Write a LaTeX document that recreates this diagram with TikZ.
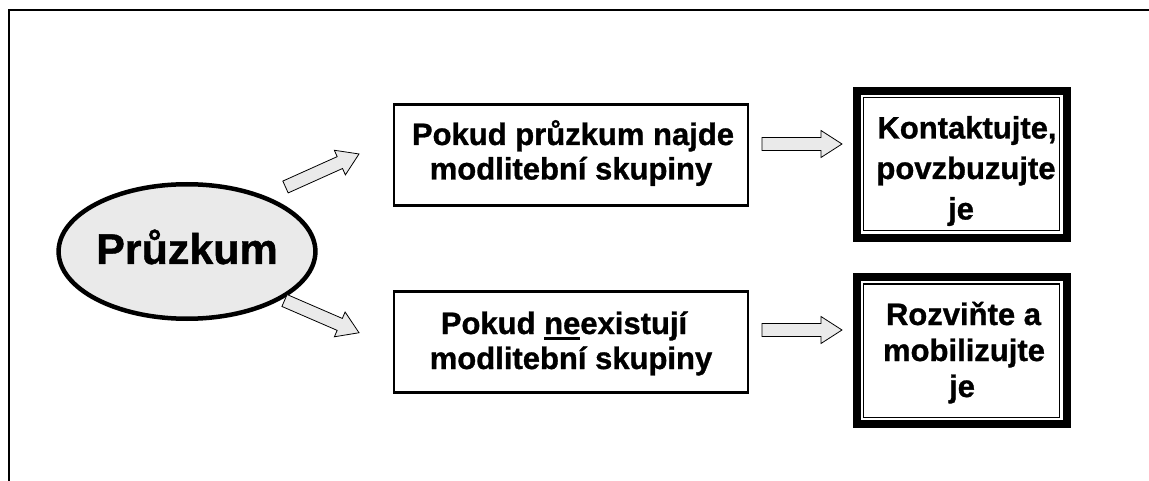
\documentclass[tikz,border=0pt]{standalone}
\usepackage{fontspec}
\setmainfont{Liberation Sans}[BoldFeatures={FakeBold=1}]
\usetikzlibrary{shapes.geometric}
\definecolor{lightfill}{RGB}{234,234,234}
\newcommand\myul[1]{\setbox0\hbox{#1}\rlap{\rule[-6pt]{\wd0}{3pt}}\box0}
\begin{document}
\begin{tikzpicture}[x=1pt,y=-1pt,
  frame/.style={line width=2.7pt},
  oval/.style={ellipse, draw, line width=4.5pt, fill=lightfill, minimum width=225.5pt, minimum height=134.5pt, inner sep=0pt, text height=25pt, text depth=0pt, font=\fontsize{43}{50}\selectfont\bfseries},
  midbox/.style={rectangle, draw, line width=2.2pt, minimum width=354pt, minimum height=101pt, inner sep=0pt},
  endbox/.style={rectangle, draw, line width=1pt, minimum width=196pt, minimum height=133pt, inner sep=0pt},
  lbl/.style={anchor=base, inner sep=0pt, font=\fontsize{31}{36}\selectfont\bfseries},
  endframe/.style={line width=8pt},
  blockarrow/.style={draw, line width=0.8pt, fill=lightfill, line join=miter},
  pics/barrow/.style={code={\draw[blockarrow] (0,-6.5) -- (#1-21,-6.5) -- (#1-21,-13.5) -- (#1,0) -- (#1-21,13.5) -- (#1-21,6.5) -- (0,6.5) -- cycle;}}
]
\useasboundingbox (0,0) rectangle (1149,481);
\draw[frame] (9,483) -- (9,10) -- (1151,10);

\node[oval] (p) at (187,251.5) {Průzkum};

\node[midbox] (m1) at (571,155) {};
\node[lbl] (m1a) at (573,145) {Pokud průzkum najde};
\node[lbl] (m1b) at (571,179.5) {modlitební skupiny};

\node[midbox] (m2) at (571,342) {};
\node[lbl] (m2a) at (564,334) {Pokud \myul{ne}existují};
\node[lbl] (m2b) at (571,369) {modlitební skupiny};

\node[endbox] (k) at (961.5,164.5) {};
\draw[endframe] ([shift={(-6.5,-6.5)}]k.north west) rectangle ([shift={(6.5,6.5)}]k.south east);
\node[lbl] (k1) at (967,138.5) {Kontaktujte,};
\node[lbl] (k2) at (966,179) {povzbuzujte};
\node[lbl] (k3) at (961,219.5) {je};

\node[endbox] (r) at (961.5,350.5) {};
\draw[endframe] ([shift={(-6.5,-6.5)}]r.north west) rectangle ([shift={(6.5,6.5)}]r.south east);
\node[lbl] (r1) at (963.5,325) {Rozviňte a};
\node[lbl] (r2) at (964,361) {mobilizujte};
\node[lbl] (r3) at (962,397) {je};

\coordinate (a1) at (285.5,187);
\coordinate (a2) at (284.5,300.5);
\coordinate (a3) at (762,144);
\coordinate (a4) at (762,330);
\pic[rotate=24.2] at (a1) {barrow=80.6};
\pic[rotate=-23.4] at (a2) {barrow=81.2};
\pic at (a3) {barrow=80};
\pic at (a4) {barrow=80};
\end{tikzpicture}
\end{document}
